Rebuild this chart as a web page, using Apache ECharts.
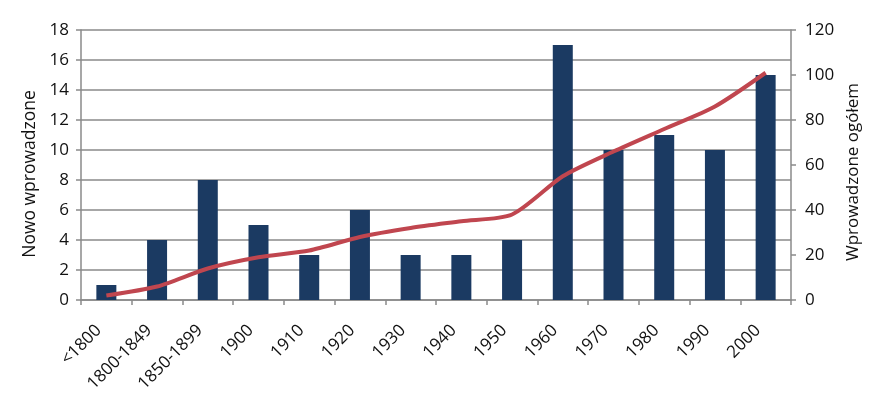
<!DOCTYPE html>
<html><head><meta charset="utf-8">
<script src="https://cdn.jsdelivr.net/npm/echarts@6/dist/echarts.min.js"></script>
<style>html,body{margin:0;padding:0;background:#fff}#c{width:891px;height:393px}</style>
</head><body><div id="c"></div>
<script>
const categories = ['<1800','1800-1849','1850-1899','1900','1910','1920','1930','1940','1950','1960','1970','1980','1990','2000'];
const newValues = [1,4,8,5,3,6,3,3,4,17,10,11,10,15];
const totalValues = [2,6,14,19,22,28,32,35,38,55,66,76,86,101];
const leftName = 'Nowo wprowadzone';
const rightName = 'Wprowadzone ogółem';

const font = 'Open Sans';
const gridColor = '#8a8a8a';
const chart = echarts.init(document.getElementById('c'), null, {renderer:'canvas'});
chart.setOption({
  animation:false,
  grid:{left:81,right:100,top:30,bottom:93,containLabel:false,outerBoundsMode:'none'},
  xAxis:{type:'category',data:categories,boundaryGap:true,
    axisLine:{lineStyle:{color:gridColor,width:1.5}},
    axisTick:{show:true,length:5,alignWithLabel:false,lineStyle:{color:gridColor,width:1.5}},
    axisLabel:{rotate:45,color:'#111',fontFamily:font,fontSize:17,margin:20,padding:[0,11,0,0],interval:0}},
  yAxis:[
    {type:'value',min:0,max:18,interval:2,name:leftName,nameLocation:'middle',nameGap:42,
     nameTextStyle:{color:'#111',fontFamily:font,fontSize:17.5,padding:[0,18,0,0]},
     axisLine:{show:true,lineStyle:{color:gridColor,width:1.5}},
     axisTick:{show:true,length:5,lineStyle:{color:gridColor,width:1.5}},
     axisLabel:{color:'#111',fontFamily:font,fontSize:17,margin:12},
     splitLine:{show:true,lineStyle:{color:gridColor,width:1.5}}},
    {type:'value',min:0,max:120,interval:20,name:rightName,nameLocation:'middle',nameGap:53,
     nameTextStyle:{color:'#111',fontFamily:font,fontSize:17,padding:[0,14,0,0]},
     axisLine:{show:true,lineStyle:{color:gridColor,width:1.5}},
     axisTick:{show:true,length:5,lineStyle:{color:gridColor,width:1.5}},
     axisLabel:{color:'#111',fontFamily:font,fontSize:17,margin:14},
     splitLine:{show:false}}
  ],
  series:[
    {type:'bar',data:newValues,yAxisIndex:0,barWidth:20,itemStyle:{color:'#1b3a62'}},
    {type:'line',data:totalValues,yAxisIndex:1,smooth:0.25,showSymbol:false,
     lineStyle:{color:'#c0464f',width:4}}
  ]
});
</script></body></html>
